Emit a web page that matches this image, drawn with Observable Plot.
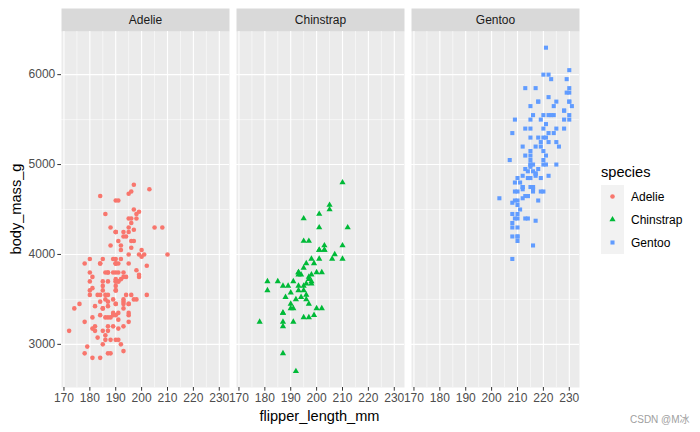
<!DOCTYPE html>
<html>
<head>
<meta charset="utf-8">
<script src="https://cdn.jsdelivr.net/npm/d3@7"></script>
<script src="https://cdn.jsdelivr.net/npm/@observablehq/plot@0.6"></script>
<style>
  html, body { margin: 0; padding: 0; background: #fff; }
  #wrap { position: relative; width: 700px; height: 432px; font-family: "Liberation Sans", Arial, sans-serif; }
  #wrap svg { display: block; }
  .abs { position: absolute; white-space: nowrap; }
</style>
</head>
<body>
<div id="wrap"></div>
<script>
// ---- data (Palmer penguins, flipper length vs body mass) ----
const species = ["Adelie", "Chinstrap", "Gentoo"];
const speciesColors = ["#F8766D", "#00BA38", "#619CFF"];
const speciesShapes = ["circle", "triangle", "square"];

const adelieFlipper = [
  181,186,195,193,190,181,195,193,190,186,180,182,191,198,185,195,197,184,194,
  174,180,189,185,180,187,183,187,172,180,
  178,178,188,184,195,196,190,180,181,184,
  182,195,186,196,185,190,182,179,190,191,
  186,188,190,200,187,191,186,193,181,194,
  185,195,185,192,184,192,195,188,190,198,
  190,190,196,197,190,195,191,184,187,195,
  189,196,187,193,191,194,190,189,189,190,
  202,205,185,186,187,208,190,196,178,192,
  192,203,183,190,193,184,199,190,181,197,
  198,191,193,197,191,196,188,199,189,189,
  187,198,176,202,186,199,191,195,191,210,
  190,197,193,199,187,190,191,200,185,193,
  193,187,188,190,192,185,190,184,195,193,187,201
];
const adelieMass = [
  3750,3800,3250,3450,3650,3625,4675,3475,4250,3300,3700,3200,3800,4400,3700,3450,4500,3325,4200,
  3400,3600,3800,3950,3800,3800,3550,3200,3150,3950,
  3250,3900,3300,3900,3325,4150,3950,3550,3300,4650,
  3150,3900,3100,4400,3000,4600,3425,2975,3450,4150,
  3500,4300,3450,4050,2900,3700,3550,3800,2850,3750,
  3150,4400,3600,4050,2850,3950,3350,4100,3050,4450,
  3600,3900,3550,4150,3700,4250,3700,3900,3550,4000,
  3200,4700,3800,4200,3350,3550,3800,3500,3950,3600,
  3550,4300,3400,4450,3300,4300,3700,4350,2900,4100,
  3725,4725,3075,4250,2925,3550,3750,3900,3175,4775,
  3825,4600,3200,4275,3900,4075,2900,3775,3350,3325,
  3150,3500,3450,3875,3050,4000,3275,4300,3050,4000,
  3325,3500,3500,4475,3425,3900,3175,3975,3400,4250,
  3400,3475,3050,3725,3000,3650,4250,3475,3450,3750,3700,4000
];
const chinstrapFlipper = [
  192,196,193,188,197,198,178,197,195,198,193,194,185,201,190,201,197,181,190,195,
  181,191,187,193,195,197,200,200,191,205,187,201,187,203,195,199,195,210,192,205,
  210,187,196,196,196,201,190,212,187,198,199,201,193,203,187,197,191,203,202,194,
  206,189,195,207,202,193,210,198
];
const chinstrapMass = [
  3500,3900,3650,3525,3725,3950,3250,3750,4150,3700,3800,3775,3700,4050,3575,4050,3300,3700,3450,4400,
  3600,3400,2900,3800,3300,4150,3400,3800,3700,4550,3200,4300,3350,4100,3600,3900,3850,4800,2700,4500,
  3950,3650,3550,3500,3675,4450,3400,4300,3250,3675,3325,3950,3600,4050,3350,3450,3250,4050,3800,3525,
  3950,3650,3650,4000,3400,3775,4100,3775
];
const gentooFlipper = [
  211,230,210,218,215,210,211,219,209,215,
  214,216,214,213,210,217,210,221,209,222,
  218,215,213,215,215,215,216,215,210,220,
  222,209,207,230,220,220,213,219,208,208,
  208,225,210,216,222,217,210,225,213,215,
  210,220,210,225,217,220,208,220,208,224,
  208,221,214,231,219,230,214,229,220,223,
  216,221,221,217,216,230,209,220,215,223,
  212,221,212,224,212,228,218,218,212,230,
  218,228,212,224,214,226,216,222,203,225,
  219,228,215,228,216,215,210,219,208,209,
  216,229,213,230,217,230,217,222,214,215,222,212,213
];
const gentooMass = [
  4500,5700,4450,5700,5400,4550,4800,5200,4400,5150,
  4650,5550,4650,5850,4200,5850,4150,6300,4800,5350,
  5700,5000,4400,5050,5000,5100,4100,5650,4600,5550,
  5250,4700,5050,6050,5150,5400,4950,5250,4350,5350,
  3950,5700,4300,4750,5550,4900,4200,5400,5100,5300,
  4850,5300,4400,5000,4900,5050,4300,5000,4450,5550,
  4200,5300,4400,5650,4700,5700,4650,5800,4700,5550,
  4750,5000,5100,5200,4700,5800,4600,6000,4750,5950,
  4625,5450,4725,5350,4750,5600,4600,5300,4875,5550,
  4950,5400,4750,5650,4850,5200,4925,4875,4625,5250,
  4850,5600,4975,5500,4725,5500,4700,5500,4575,5500,
  5000,5950,4650,5500,4375,5850,4875,6000,4925,4850,5750,5200,5400
];

const xTicks = [170, 180, 190, 200, 210, 220, 230];
const xMinor = [175, 185, 195, 205, 215, 225];
const yTicks = [3000, 4000, 5000, 6000];
const yMinor = [3500, 4500, 5500];

// ---- build table ----
const penguins = [];
[[adelieFlipper, adelieMass], [chinstrapFlipper, chinstrapMass], [gentooFlipper, gentooMass]]
  .forEach(([fl, ms], i) => fl.forEach((f, j) => penguins.push({species: species[i], flipper_length_mm: f, body_mass_g: ms[j]})));

// ---- layout ----
const W = 700, H = 432;
const mL = 60, mR = 121, mT = 31, mB = 45;
const panelH = H - mT - mB;
const stripH = 23;
const dotR = 2.3;
const font = "'Liberation Sans', Arial, sans-serif";

const plot = Plot.plot({
  width: W, height: H,
  marginLeft: mL, marginRight: mR, marginTop: mT, marginBottom: mB,
  style: {fontFamily: font, fontSize: "12px", color: "#4D4D4D", background: "white", overflow: "visible"},
  fx: {axis: null, domain: species, padding: 0.0427},
  x: {domain: [169.05, 233.95], label: null},
  y: {domain: [2520, 6480], label: null},
  color: {domain: species, range: speciesColors},
  symbol: {domain: species, range: speciesShapes},
  marks: [
    Plot.frame({fill: "#EBEBEB", stroke: "none"}),
    Plot.frame({fill: "#D9D9D9", stroke: "none", insetTop: -stripH, insetBottom: panelH}),
    Plot.gridX(xMinor, {stroke: "white", strokeOpacity: 1, strokeWidth: 0.55}),
    Plot.gridY(yMinor, {stroke: "white", strokeOpacity: 1, strokeWidth: 0.55}),
    Plot.gridX(xTicks, {stroke: "white", strokeOpacity: 1, strokeWidth: 1.1}),
    Plot.gridY(yTicks, {stroke: "white", strokeOpacity: 1, strokeWidth: 1.1}),
    Plot.dot(penguins, {
      fx: "species", x: "flipper_length_mm", y: "body_mass_g",
      fill: "species", symbol: "species", r: dotR, stroke: "none"
    }),
    Plot.text(species, {
      fx: d => d, text: d => d, frameAnchor: "top", lineAnchor: "middle",
      dy: -stripH / 2, fill: "#1A1A1A", fontSize: 12
    }),
    Plot.axisX(xTicks, {
      tickSize: 3.7, tickPadding: 2.5, stroke: "#333333", fill: "#4D4D4D",
      fontSize: 12, label: null, tickFormat: d => String(d)
    }),
    Plot.axisY(yTicks, {
      tickSize: 3.7, tickPadding: 2.5, stroke: "#333333", fill: "#4D4D4D",
      fontSize: 12, label: null, tickFormat: d => String(d)
    })
  ]
});

const wrap = document.getElementById("wrap");
wrap.appendChild(plot);

// ---- axis titles ----
function addText(txt, css) {
  const d = document.createElement("div");
  d.className = "abs";
  d.textContent = txt;
  Object.assign(d.style, css);
  wrap.appendChild(d);
  return d;
}
const panelCenterX = mL + (W - mL - mR) / 2;
addText("flipper_length_mm", {left: panelCenterX + "px", top: "416px", transform: "translate(-50%,-50%)", fontSize: "14.6px", color: "#000"});
addText("body_mass_g", {left: "16px", top: (mT + panelH / 2) + "px", transform: "translate(-50%,-50%) rotate(-90deg)", fontSize: "14.6px", color: "#000"});

// ---- legend (from the plot's scales) ----
const colorScale = plot.scale("color");
const legendX = 601, legendTop = 185, keyW = 23, keyH = 23;
addText("species", {left: legendX + "px", top: "172px", transform: "translate(0,-50%)", fontSize: "14.6px", color: "#000"});
const lsvg = d3.select(wrap).append("svg")
  .attr("width", 100).attr("height", keyH * species.length)
  .style("position", "absolute").style("left", legendX + "px").style("top", legendTop + "px").style("overflow", "visible");
const d3Shapes = {circle: d3.symbolCircle, triangle: d3.symbolTriangle, square: d3.symbolSquare};
colorScale.domain.forEach((s, i) => {
  const g = lsvg.append("g").attr("transform", `translate(0,${i * keyH})`);
  g.append("rect").attr("width", keyW).attr("height", keyH).attr("fill", "#F2F2F2");
  g.append("path")
    .attr("transform", `translate(${keyW / 2},${keyH / 2})`)
    .attr("d", d3.symbol(d3Shapes[speciesShapes[i]], Math.PI * dotR * dotR)())
    .attr("fill", colorScale.range[i]);
  g.append("text").attr("x", 30).attr("y", keyH / 2).attr("dy", "0.35em")
    .attr("font-family", font).attr("font-size", 12).attr("fill", "#000").text(s);
});

// ---- watermark ----
addText("CSDN @M冰", {left: "630px", top: "418px", transform: "translate(0,-50%)", fontSize: "10px", color: "#A0A0A0", fontFamily: "'Liberation Sans', 'Noto Sans CJK SC', sans-serif"});
</script>
</body>
</html>
